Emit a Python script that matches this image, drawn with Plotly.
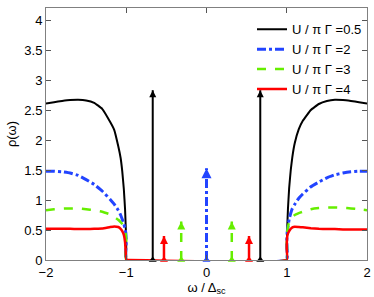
import plotly.graph_objects as go

# ---------------- data ----------------
omega = [-2.0, -1.9, -1.8, -1.7, -1.6, -1.5, -1.4, -1.3, -1.2, -1.15, -1.1, -1.07,
         -1.05, -1.03, -1.015, -1.005, -1.0, -0.999, 0.999, 1.0, 1.005, 1.015, 1.03,
         1.05, 1.07, 1.1, 1.15, 1.2, 1.3, 1.4, 1.5, 1.6, 1.7, 1.8, 1.9, 2.0]

rho_05 = [2.61, 2.63, 2.65, 2.665, 2.67, 2.66, 2.62, 2.52, 2.3, 2.17, 1.9, 1.7,
          1.48, 1.18, 0.85, 0.5, 0.2, 0.0, 0.0, 0.2, 0.5, 0.85, 1.2,
          1.5, 1.72, 1.95, 2.18, 2.32, 2.5, 2.6, 2.65, 2.67, 2.665, 2.65, 2.63, 2.61]

rho_2 = [1.48, 1.48, 1.47, 1.45, 1.41, 1.34, 1.26, 1.15, 1.01, 0.93, 0.83, 0.75,
         0.68, 0.6, 0.52, 0.45, 0.3, 0.0, 0.0, 0.3, 0.45, 0.55, 0.68,
         0.78, 0.86, 0.93, 1.03, 1.1, 1.22, 1.3, 1.37, 1.42, 1.45, 1.47, 1.48, 1.48]

rho_3 = [0.83, 0.845, 0.855, 0.86, 0.86, 0.845, 0.83, 0.805, 0.76, 0.72, 0.67, 0.63,
         0.6, 0.56, 0.5, 0.42, 0.3, 0.0, 0.0, 0.3, 0.45, 0.55, 0.64,
         0.68, 0.71, 0.75, 0.78, 0.805, 0.845, 0.865, 0.875, 0.875, 0.87, 0.86, 0.845, 0.83]

rho_4 = [0.52, 0.52, 0.52, 0.52, 0.515, 0.515, 0.52, 0.525, 0.55, 0.56, 0.55, 0.52,
         0.48, 0.42, 0.3, 0.1, 0.0, 0.0, 0.0, 0.2, 0.38, 0.44, 0.48,
         0.52, 0.545, 0.555, 0.55, 0.545, 0.53, 0.52, 0.515, 0.515, 0.51, 0.51, 0.51, 0.51]

labels = ["U / π Γ =0.5", "U / π Γ =2", "U / π Γ =3", "U / π Γ =4"]

# bound states (delta peaks): positions and arrow heights
peak_pos_05 = [-0.67, 0.67]
peak_h_05 = [2.83, 2.83]
peak_pos_2 = [0.0]
peak_h_2 = [1.53]
peak_pos_3 = [-0.315, 0.315]
peak_h_3 = [0.64, 0.64]
peak_pos_4 = [-0.53, 0.53]
peak_h_4 = [0.40, 0.40]

xticks = [-2, -1, 0, 1, 2]
yticks = [0, 0.5, 1, 1.5, 2, 2.5, 3, 3.5, 4]
yticklabels = ["0", "0.5", "1", "1.5", "2", "2.5", "3", "3.5", "4"]

# ---------------- styles ----------------
series = [
    (rho_05, labels[0], "black", 2, "solid", peak_pos_05, peak_h_05, 7),
    (rho_2, labels[1], "#2244ff", 3, "dashdot", peak_pos_2, peak_h_2, 10),
    (rho_3, labels[2], "#66ee00", 2.5, "dash", peak_pos_3, peak_h_3, 8),
    (rho_4, labels[3], "#ff0000", 2.5, "solid", peak_pos_4, peak_h_4, 8),
]

fig = go.Figure()

for vals, name, color, width, dash, ppos, ph, hs in series:
    fig.add_trace(go.Scatter(
        x=omega, y=vals, mode="lines", name=name,
        line=dict(color=color, width=width, dash=dash, shape="spline", smoothing=0.3),
    ))

for vals, name, color, width, dash, ppos, ph, hs in series:
    for p, h in zip(ppos, ph):
        # stem
        fig.add_trace(go.Scatter(
            x=[p, p], y=[0, h], mode="lines", showlegend=False,
            line=dict(color=color, width=width, dash=dash), hoverinfo="skip",
        ))
        # arrow head (tip at data point)
        fig.add_trace(go.Scatter(
            x=[p], y=[h], mode="markers", showlegend=False, cliponaxis=False,
            marker=dict(symbol="arrow-up", size=hs, color=color,
                        line=dict(width=0)),
            hoverinfo="skip",
        ))
        # base marker
        fig.add_trace(go.Scatter(
            x=[p], y=[0], mode="markers", showlegend=False, cliponaxis=False,
            marker=dict(symbol="triangle-up", size=7, color=color,
                        line=dict(width=0)),
            hoverinfo="skip",
        ))

font_family = "Liberation Sans, Arial, Helvetica, sans-serif"
axis_common = dict(
    showline=True, linecolor="#808080", linewidth=1, mirror="ticks",
    ticks="inside", ticklen=5, tickcolor="#555555", tickwidth=1,
    showgrid=False, zeroline=False,
    tickfont=dict(family=font_family, size=13, color="black"),
)

fig.update_layout(
    width=374, height=297,
    margin=dict(l=46, r=7, t=8, b=37, autoexpand=False),
    paper_bgcolor="white", plot_bgcolor="white",
    font=dict(family=font_family, size=13, color="black"),
    showlegend=True,
    legend=dict(
        x=1.0, y=0.975, xanchor="right", yanchor="top",
        bgcolor="rgba(0,0,0,0)", borderwidth=0,
        font=dict(family=font_family, size=13, color="black"),
        tracegroupgap=0,
    ),
    xaxis=dict(
        range=[-2, 2], tickvals=xticks,
        title=dict(text="ω / Δ<sub>sc</sub>", standoff=0,
                   font=dict(family=font_family, size=13)),
        **axis_common,
    ),
    yaxis=dict(
        range=[0, 4.2], tickvals=yticks, ticktext=yticklabels,
        title=dict(text="ρ(ω)", standoff=4,
                   font=dict(family=font_family, size=13)),
        **axis_common,
    ),
)

fig.write_html(
    "out.html",
    config={"displayModeBar": False},
    post_script="document.body.style.margin='0px';document.body.style.overflow='hidden';",
)
